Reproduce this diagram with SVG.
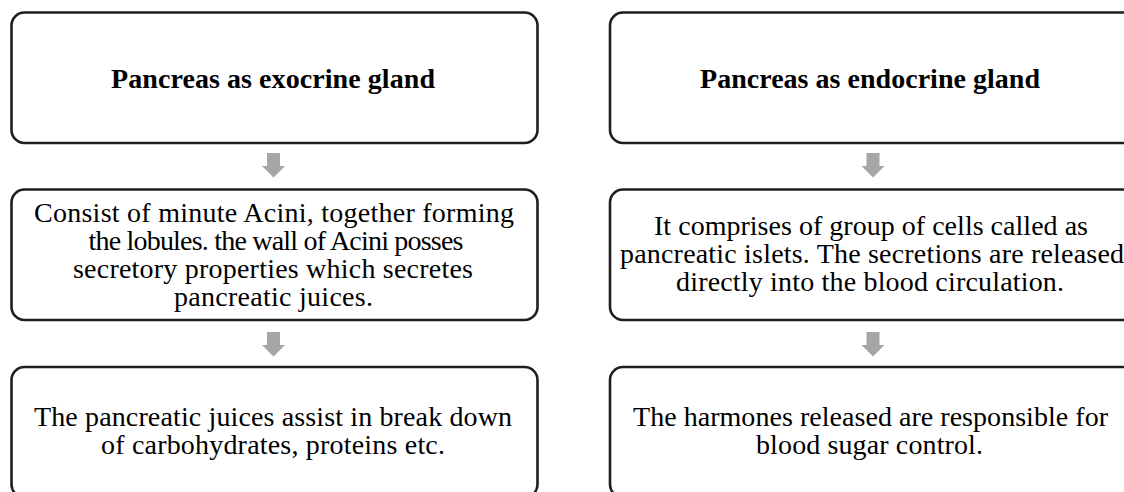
<svg xmlns="http://www.w3.org/2000/svg" width="1124" height="492" viewBox="0 0 1124 492">
<defs>
<style>
.box{fill:#ffffff;stroke:#1e1e1e;stroke-width:2.6}
.t{font-family:"Liberation Serif","Times New Roman",serif;font-size:28px;fill:#000;text-anchor:middle}
.h{font-weight:bold;font-size:28px}
.arrow{fill:#a6a6a6}
</style>
</defs>
<rect width="1124" height="492" fill="#ffffff"/>
<g id="connectors">
<polygon class="arrow" points="267,153 280,153 280,166 285,166 273.5,177.5 262,166 267,166"/>
<polygon class="arrow" points="267,332 280,332 280,345 285,345 273.5,356.5 262,345 267,345"/>
<polygon class="arrow" points="866.5,153 879.5,153 879.5,166 884.5,166 873,177.5 861.5,166 866.5,166"/>
<polygon class="arrow" points="866.5,332 879.5,332 879.5,345 884.5,345 873,356.5 861.5,345 866.5,345"/>
</g>
<g id="exo-title">
<rect class="box" x="11.5" y="12.5" width="526" height="130.5" rx="13"/>
<text class="t h" x="273" y="88" textLength="324" lengthAdjust="spacing">Pancreas as exocrine gland</text>
</g>
<g id="exo-acini">
<rect class="box" x="11.5" y="189.5" width="526" height="130.5" rx="13"/>
<text class="t" x="274" y="222" textLength="480" lengthAdjust="spacing">Consist of minute Acini, together forming</text>
<text class="t" x="276" y="250" textLength="375" lengthAdjust="spacing">the lobules. the wall of Acini posses</text>
<text class="t" x="273" y="278" textLength="400" lengthAdjust="spacing">secretory properties which secretes</text>
<text class="t" x="273.5" y="306" textLength="199" lengthAdjust="spacing">pancreatic juices.</text>
</g>
<g id="exo-juices">
<rect class="box" x="11.5" y="367" width="526" height="130.5" rx="13"/>
<text class="t" x="273" y="426" textLength="478" lengthAdjust="spacing">The pancreatic juices assist in break down</text>
<text class="t" x="273" y="454" textLength="344" lengthAdjust="spacing">of carbohydrates, proteins etc.</text>
</g>
<g id="endo-title">
<rect class="box" x="610" y="12.5" width="526" height="130.5" rx="13"/>
<text class="t h" x="870" y="88" textLength="340" lengthAdjust="spacing">Pancreas as endocrine gland</text>
</g>
<g id="endo-islets">
<rect class="box" x="610" y="189.5" width="526" height="130.5" rx="13"/>
<text class="t" x="871" y="235" textLength="434" lengthAdjust="spacing">It comprises of group of cells called as</text>
<text class="t" x="872" y="263" textLength="504" lengthAdjust="spacing">pancreatic islets. The secretions are released</text>
<text class="t" x="870" y="291" textLength="388" lengthAdjust="spacing">directly into the blood circulation.</text>
</g>
<g id="endo-hormones">
<rect class="box" x="610" y="367" width="526" height="130.5" rx="13"/>
<text class="t" x="870.5" y="426" textLength="475" lengthAdjust="spacing">The harmones released are responsible for</text>
<text class="t" x="869.5" y="454" textLength="227" lengthAdjust="spacing">blood sugar control.</text>
</g>
</svg>
